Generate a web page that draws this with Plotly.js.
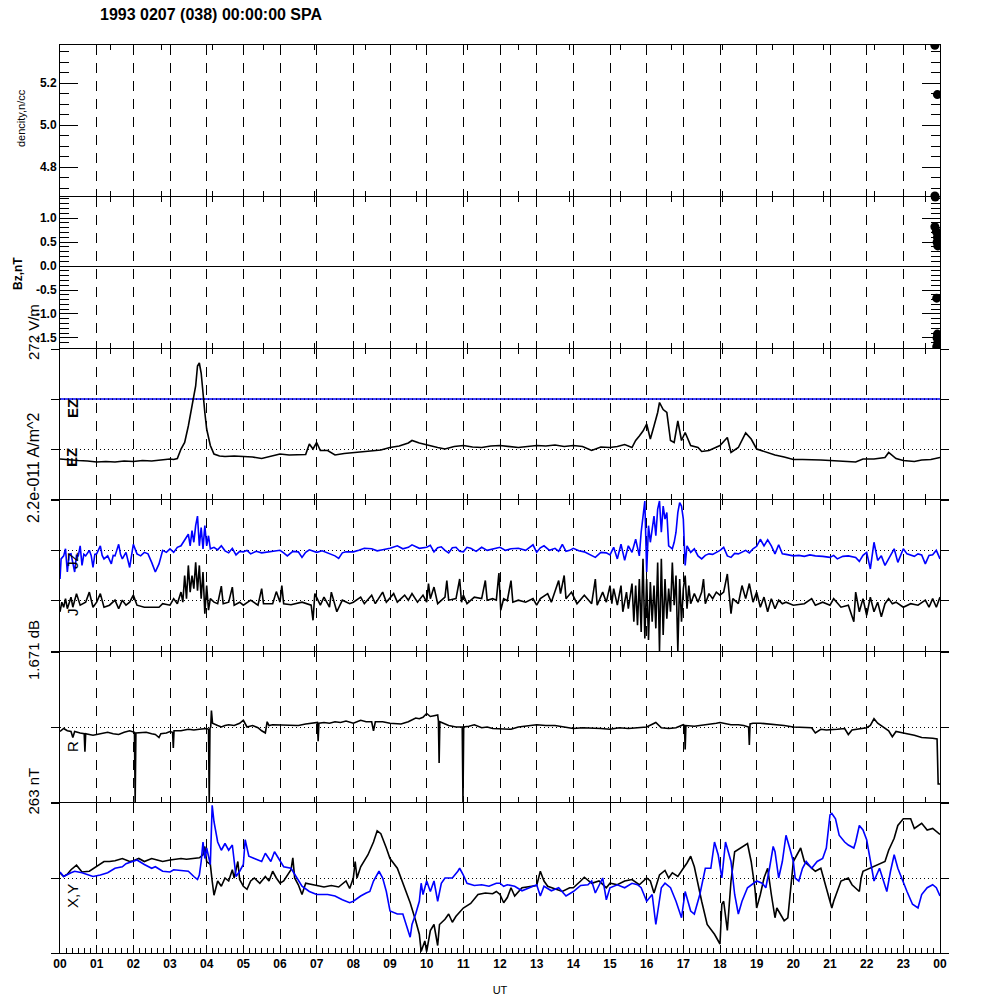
<!DOCTYPE html>
<html>
<head>
<meta charset="utf-8">
<script src="https://cdn.plot.ly/plotly-3.0.1.min.js"></script>
<style>html,body{margin:0;padding:0;background:#fff;}#chart{width:1000px;height:1000px;}</style>
</head>
<body>
<div id="chart"></div>
<script>
// ---------------- DATA ----------------
const titleText = '1993 0207 (038) 00:00:00 SPA';
const hourLabels = ['00','01','02','03','04','05','06','07','08','09','10','11','12','13','14','15','16','17','18','19','20','21','22','23','00'];
const panelLabels = ['272 V/m', '2.2e-011 A/m^2', '1.671 dB', '263 nT'];

// Panel 1: density (n/cc), points at the end of the day
const densT = [23.86, 23.93, 23.86];
const densV = [5.38, 5.145, 4.662];

// Panel 2: Bz (nT)
const bzT = [23.87, 23.86, 23.90, 23.93, 23.92, 23.94, 23.91, 23.93, 23.92, 23.94, 23.91];
const bzV = [1.44, 0.82, 0.72, 0.60, 0.50, 0.42, -0.67, -1.42, -1.50, -1.60, -1.68];

// Panel 3: EZ (panel units, reference level = 1)
const ezRef = 1.0;
const ezData = [[0,-0.20],[0.25,-0.22],[0.5,-0.23],[0.75,-0.24],[1,-0.26],[1.25,-0.25],[1.5,-0.26],[1.75,-0.24],[2,-0.25],[2.25,-0.23],[2.5,-0.24],[2.75,-0.22],[3,-0.20],[3.1,-0.21],[3.2,-0.19],[3.3,0.0],[3.4,0.13],[3.5,0.46],[3.6,0.86],[3.7,1.26],[3.75,1.66],[3.8,1.72],[3.85,1.52],[3.9,1.06],[3.95,0.73],[4.0,0.40],[4.1,0.07],[4.2,-0.10],[4.35,-0.14],[4.5,-0.15],[4.75,-0.14],[5,-0.15],[5.25,-0.16],[5.5,-0.19],[5.75,-0.15],[6,-0.10],[6.25,-0.12],[6.5,-0.12],[6.7,-0.11],[6.8,0.10],[6.9,0.0],[7.0,0.13],[7.1,-0.03],[7.3,-0.03],[7.5,-0.12],[7.75,-0.09],[8,-0.07],[8.25,-0.05],[8.5,-0.03],[8.75,-0.02],[9,0.03],[9.25,0.06],[9.5,0.12],[9.6,0.17],[9.8,0.12],[10,0.08],[10.3,0.03],[10.5,0.0],[10.75,0.05],[11,0.07],[11.25,0.04],[11.5,0.03],[11.75,0.06],[12,0.07],[12.25,0.05],[12.5,0.03],[12.75,0.05],[13,0.07],[13.25,0.06],[13.5,0.08],[13.75,0.05],[14,0.07],[14.25,0.05],[14.5,-0.03],[14.75,0.04],[15,0.03],[15.2,0.05],[15.4,0.09],[15.6,0.03],[15.7,0.17],[15.8,0.26],[15.9,0.36],[16.0,0.50],[16.1,0.20],[16.2,0.46],[16.3,0.73],[16.35,0.93],[16.45,0.79],[16.55,0.73],[16.65,0.17],[16.75,0.13],[16.85,0.56],[16.95,0.17],[17.05,0.33],[17.2,0.07],[17.4,0.03],[17.5,-0.05],[17.7,-0.03],[18,0.07],[18.2,0.23],[18.3,-0.07],[18.5,0.03],[18.7,0.32],[18.85,0.20],[19,0.0],[19.2,-0.05],[19.5,-0.12],[19.75,-0.16],[20,-0.21],[20.25,-0.21],[20.5,-0.21],[20.75,-0.22],[21,-0.23],[21.25,-0.24],[21.5,-0.25],[21.7,-0.26],[21.9,-0.20],[22.2,-0.20],[22.5,-0.17],[22.6,-0.07],[22.8,-0.19],[23,-0.23],[23.3,-0.25],[23.5,-0.22],[23.75,-0.21],[24,-0.17]];

// Panel 4: JZ (blue, baseline 1) and J (black, baseline 0)
const jzData = [[0,0.43],[0.03,0.83],[0.1,0.89],[0.15,1.03],[0.2,0.57],[0.25,0.92],[0.3,0.93],[0.4,0.57],[0.45,0.9],[0.5,0.89],[0.55,1.09],[0.6,0.70],[0.65,0.92],[0.7,0.89],[0.8,1.0],[0.85,0.9],[0.9,0.66],[0.95,0.92],[1.0,0.93],[1.1,1.09],[1.15,0.9],[1.2,0.83],[1.3,0.89],[1.4,0.73],[1.45,0.9],[1.5,0.89],[1.6,1.12],[1.65,0.92],[1.7,0.83],[1.8,0.96],[1.9,0.66],[1.95,0.93],[2.0,1.12],[2.1,0.93],[2.2,0.89],[2.3,0.96],[2.4,0.93],[2.5,0.76],[2.6,0.57],[2.7,0.73],[2.8,1.0],[2.9,0.96],[3.0,1.03],[3.1,0.96],[3.2,1.06],[3.3,1.09],[3.4,1.22],[3.5,1.32],[3.55,1.09],[3.6,1.39],[3.65,1.16],[3.7,1.49],[3.75,1.68],[3.8,1.09],[3.85,1.45],[3.9,1.03],[3.95,1.49],[4.0,1.09],[4.05,1.29],[4.1,1.03],[4.2,1.06],[4.3,1.01],[4.4,1.09],[4.5,0.99],[4.6,0.95],[4.7,1.04],[4.8,0.91],[4.9,0.98],[5.0,0.97],[5.1,1.0],[5.2,0.93],[5.35,0.98],[5.5,0.95],[5.75,0.97],[6.0,1.0],[6.1,0.95],[6.2,0.89],[6.35,0.98],[6.5,0.97],[6.6,0.86],[6.7,0.96],[6.8,1.01],[7.0,0.96],[7.15,0.99],[7.3,0.95],[7.5,0.89],[7.6,0.84],[7.7,0.95],[7.8,0.97],[8.0,0.97],[8.15,1.0],[8.3,1.04],[8.5,1.03],[8.65,0.99],[8.8,1.01],[9.0,1.04],[9.2,1.09],[9.35,1.03],[9.5,1.06],[9.6,1.11],[9.8,1.04],[10.0,1.06],[10.1,1.1],[10.2,0.97],[10.3,1.05],[10.4,1.07],[10.5,1.0],[10.6,0.95],[10.7,1.05],[10.8,1.06],[10.9,0.98],[11.0,0.97],[11.1,1.06],[11.2,1.04],[11.35,0.98],[11.5,1.06],[11.65,1.0],[11.8,1.03],[12.0,1.06],[12.15,1.0],[12.3,1.03],[12.5,1.04],[12.7,1.0],[12.9,1.11],[13.0,0.96],[13.1,1.05],[13.2,1.09],[13.35,1.0],[13.5,1.04],[13.6,0.98],[13.7,1.12],[13.8,0.98],[13.9,1.0],[14.0,1.04],[14.15,0.99],[14.3,0.97],[14.45,0.92],[14.6,0.86],[14.75,0.96],[14.9,0.95],[15.0,0.91],[15.1,1.06],[15.2,0.83],[15.3,1.12],[15.4,0.80],[15.5,1.09],[15.6,0.96],[15.7,1.22],[15.8,0.89],[15.85,1.36],[15.95,1.98],[16.0,0.57],[16.05,1.49],[16.1,1.16],[16.2,1.68],[16.25,1.29],[16.3,1.82],[16.35,1.98],[16.4,1.36],[16.45,1.88],[16.5,1.62],[16.55,1.75],[16.6,1.09],[16.7,1.03],[16.75,1.16],[16.8,1.36],[16.85,1.75],[16.9,1.95],[16.95,1.88],[17.0,1.62],[17.05,0.70],[17.1,1.09],[17.2,0.96],[17.3,1.03],[17.4,0.89],[17.5,0.83],[17.6,0.9],[17.7,0.93],[17.8,0.92],[17.9,0.96],[18.0,1.0],[18.1,1.06],[18.2,0.89],[18.3,0.86],[18.4,0.94],[18.5,0.93],[18.6,0.96],[18.7,1.0],[18.8,0.95],[18.9,1.03],[19.0,1.08],[19.1,1.22],[19.2,1.09],[19.3,1.21],[19.4,1.09],[19.5,0.93],[19.6,1.11],[19.7,0.93],[19.8,0.92],[19.9,0.91],[20.0,0.89],[20.15,0.9],[20.3,0.88],[20.45,0.91],[20.6,0.89],[20.8,0.88],[21.0,0.86],[21.1,0.9],[21.2,0.83],[21.35,0.88],[21.5,0.89],[21.7,0.86],[21.8,0.78],[21.9,0.9],[22.0,0.96],[22.1,0.63],[22.2,1.16],[22.3,0.80],[22.4,0.89],[22.5,0.70],[22.6,0.83],[22.75,1.03],[22.85,0.76],[23.0,1.03],[23.1,0.93],[23.2,0.9],[23.3,0.88],[23.4,0.93],[23.5,0.91],[23.6,0.73],[23.7,0.9],[23.8,0.91],[23.9,1.0],[24,0.83]];
const jData = [[0,-0.22],[0.05,-0.03],[0.1,-0.13],[0.15,0.04],[0.2,-0.16],[0.3,0.07],[0.35,-0.13],[0.45,0.14],[0.55,-0.09],[0.7,-0.03],[0.8,0.17],[0.9,-0.13],[1.0,-0.03],[1.1,0.14],[1.2,-0.13],[1.35,-0.09],[1.5,0.01],[1.6,-0.16],[1.7,0.01],[1.8,-0.09],[1.9,-0.03],[2.0,0.11],[2.1,-0.09],[2.3,-0.13],[2.5,-0.13],[2.7,-0.13],[2.8,-0.06],[3.0,-0.09],[3.1,0.04],[3.2,-0.06],[3.3,0.17],[3.35,-0.03],[3.4,0.50],[3.45,0.04],[3.5,0.70],[3.55,0.17],[3.6,0.50],[3.65,0.24],[3.7,0.76],[3.75,0.20],[3.8,0.70],[3.85,0.04],[3.9,0.57],[3.95,-0.26],[4.0,0.30],[4.05,-0.19],[4.1,0.04],[4.2,-0.03],[4.3,-0.06],[4.4,0.29],[4.45,-0.06],[4.6,-0.03],[4.7,0.27],[4.75,-0.09],[4.9,-0.03],[5.0,-0.09],[5.2,0.01],[5.4,-0.09],[5.5,0.24],[5.55,-0.06],[5.8,-0.06],[5.9,0.18],[6.0,-0.03],[6.05,0.30],[6.1,-0.06],[6.3,-0.08],[6.6,-0.03],[6.85,-0.09],[6.9,-0.39],[6.95,0.14],[7.1,-0.09],[7.2,0.07],[7.35,-0.13],[7.4,0.17],[7.55,-0.22],[7.7,0.01],[7.9,-0.06],[8.0,-0.03],[8.2,0.07],[8.3,-0.06],[8.5,0.11],[8.6,-0.06],[8.8,0.17],[8.9,-0.03],[9.1,0.14],[9.2,-0.03],[9.4,0.11],[9.5,0.01],[9.6,0.14],[9.75,-0.03],[9.9,0.11],[10.0,-0.03],[10.05,0.34],[10.1,0.04],[10.2,0.27],[10.3,-0.06],[10.5,0.07],[10.55,0.40],[10.6,0.01],[10.8,0.04],[10.9,0.43],[10.95,-0.03],[11.0,0.11],[11.1,-0.06],[11.3,0.07],[11.5,0.04],[11.6,0.40],[11.65,0.01],[11.8,0.04],[11.9,0.01],[11.97,0.55],[12.02,-0.19],[12.1,0.04],[12.2,0.0],[12.3,0.40],[12.35,-0.03],[12.5,0.01],[12.7,-0.03],[12.9,0.04],[13.0,-0.09],[13.1,0.04],[13.3,0.14],[13.4,-0.03],[13.6,0.40],[13.65,0.14],[13.75,0.50],[13.8,0.04],[13.95,0.17],[14.1,-0.06],[14.3,0.11],[14.5,-0.06],[14.6,0.43],[14.65,-0.09],[14.8,0.17],[14.9,-0.03],[15.0,0.30],[15.05,-0.06],[15.1,0.24],[15.2,-0.09],[15.3,0.30],[15.35,-0.22],[15.45,0.17],[15.5,-0.16],[15.6,0.34],[15.65,-0.42],[15.7,0.30],[15.75,-0.49],[15.8,0.43],[15.85,-0.62],[15.9,0.83],[15.95,-0.75],[16.0,0.43],[16.05,-0.78],[16.1,0.37],[16.15,-0.42],[16.2,0.30],[16.25,-0.55],[16.3,0.76],[16.35,-1.0],[16.4,0.83],[16.45,-0.68],[16.5,0.43],[16.55,-0.36],[16.6,0.24],[16.65,-0.22],[16.7,0.76],[16.75,-0.09],[16.8,0.50],[16.85,-1.0],[16.9,0.43],[16.95,-0.42],[17.0,0.24],[17.05,0.50],[17.1,-0.16],[17.15,0.30],[17.2,-0.06],[17.3,0.14],[17.4,-0.03],[17.5,0.17],[17.55,0.43],[17.6,-0.06],[17.7,0.14],[17.8,0.04],[17.9,0.17],[18.0,0.11],[18.1,0.17],[18.2,0.53],[18.25,0.04],[18.3,-0.26],[18.35,0.04],[18.5,-0.06],[18.6,0.30],[18.7,0.04],[18.8,0.34],[18.9,-0.03],[19.0,0.17],[19.1,-0.13],[19.2,0.07],[19.3,-0.22],[19.4,0.04],[19.5,-0.16],[19.6,0.01],[19.7,-0.06],[19.8,-0.03],[20.0,-0.09],[20.3,-0.06],[20.5,0.04],[20.6,-0.09],[20.8,-0.03],[21.0,-0.09],[21.1,0.04],[21.3,-0.13],[21.5,-0.09],[21.65,-0.42],[21.7,0.17],[21.8,-0.22],[21.9,0.04],[22.0,-0.29],[22.1,0.07],[22.2,-0.22],[22.3,-0.03],[22.4,-0.32],[22.5,-0.06],[22.6,0.04],[22.7,-0.06],[22.8,-0.03],[23.0,-0.13],[23.2,-0.06],[23.4,-0.09],[23.6,0.01],[23.7,-0.13],[23.8,0.04],[23.9,-0.13],[24,0.07]];

// Panel 5: R
const rData = [[0,-0.06],[0.1,-0.02],[0.2,-0.05],[0.3,-0.06],[0.35,-0.14],[0.4,-0.06],[0.55,-0.08],[0.66,-0.09],[0.68,-0.33],[0.7,-0.09],[0.8,-0.10],[0.9,-0.11],[1.0,-0.10],[1.15,-0.08],[1.3,-0.07],[1.45,-0.09],[1.6,-0.10],[1.75,-0.07],[1.9,-0.05],[2.03,-0.07],[2.05,-1.0],[2.07,-0.08],[2.2,-0.08],[2.35,-0.07],[2.5,-0.09],[2.6,-0.10],[2.7,-0.14],[2.75,-0.09],[2.9,-0.08],[3.0,-0.06],[3.07,-0.07],[3.09,-0.28],[3.11,-0.05],[3.3,-0.05],[3.5,-0.03],[3.65,-0.04],[3.8,-0.03],[4.0,-0.02],[4.05,-0.03],[4.07,-1.0],[4.09,-0.02],[4.11,0.0],[4.13,0.22],[4.16,0.05],[4.3,0.02],[4.4,0.0],[4.5,0.02],[4.6,0.03],[4.75,0.02],[4.9,0.05],[5.0,0.09],[5.1,0.0],[5.25,0.02],[5.4,-0.01],[5.5,-0.05],[5.6,-0.08],[5.65,0.07],[5.7,0.02],[5.8,0.03],[6.0,0.03],[6.2,0.02],[6.35,0.03],[6.5,0.02],[6.7,0.04],[6.9,0.05],[7.02,0.06],[7.04,-0.19],[7.06,0.05],[7.2,0.06],[7.35,0.05],[7.5,0.07],[7.65,0.06],[7.8,0.08],[8.0,0.05],[8.2,0.09],[8.35,0.07],[8.5,0.07],[8.55,-0.05],[8.6,0.07],[8.8,0.07],[9.0,0.05],[9.15,0.05],[9.3,0.04],[9.5,0.07],[9.7,0.12],[9.8,0.11],[9.9,0.13],[10.0,0.18],[10.1,0.14],[10.2,0.15],[10.3,0.16],[10.32,0.08],[10.34,-0.48],[10.36,0.07],[10.45,0.05],[10.6,0.02],[10.8,0.0],[10.97,0.0],[10.99,-1.0],[11.01,0.0],[11.15,0.01],[11.3,0.03],[11.5,-0.01],[11.65,0.0],[11.8,-0.02],[12.0,-0.02],[12.15,-0.03],[12.3,-0.03],[12.5,0.0],[12.75,0.02],[13.0,0.03],[13.25,0.02],[13.5,0.02],[13.75,0.0],[14.0,-0.02],[14.25,-0.01],[14.5,-0.01],[14.75,-0.02],[15.0,-0.03],[15.25,-0.01],[15.5,-0.02],[15.75,-0.01],[16.0,0.0],[16.25,0.06],[16.4,-0.01],[16.6,-0.02],[16.8,-0.01],[17.0,0.03],[17.03,0.02],[17.05,-0.30],[17.07,0.02],[17.3,0.01],[17.5,0.02],[17.7,0.04],[17.9,0.05],[18.0,0.06],[18.15,0.04],[18.3,0.03],[18.5,0.03],[18.65,0.02],[18.78,0.0],[18.8,-0.24],[18.82,0.04],[18.9,0.05],[19.1,0.05],[19.3,0.04],[19.5,0.04],[19.75,0.02],[20.0,0.0],[20.25,0.0],[20.5,-0.01],[20.6,-0.08],[20.75,-0.03],[20.9,-0.04],[21.0,-0.04],[21.2,-0.03],[21.4,-0.02],[21.5,-0.10],[21.6,-0.04],[21.8,-0.02],[22.0,-0.01],[22.1,0.02],[22.2,0.11],[22.3,0.05],[22.45,0.0],[22.6,-0.05],[22.7,-0.13],[22.8,-0.06],[23.0,-0.08],[23.15,-0.09],[23.3,-0.11],[23.5,-0.14],[23.65,-0.14],[23.8,-0.15],[23.92,-0.16],[23.95,-0.76],[24,-0.76]];

// Panel 6: X (black) and Y (blue)
const xData = [[0,0.07],[0.1,0.02],[0.2,0.05],[0.3,0.11],[0.45,0.17],[0.6,0.08],[0.8,0.09],[1.0,0.15],[1.2,0.22],[1.35,0.22],[1.5,0.23],[1.7,0.26],[1.9,0.22],[2.0,0.23],[2.15,0.26],[2.3,0.22],[2.5,0.26],[2.65,0.24],[2.8,0.22],[3.0,0.24],[3.15,0.25],[3.3,0.26],[3.45,0.25],[3.6,0.26],[3.8,0.27],[3.9,0.31],[3.95,0.42],[4.0,0.22],[4.1,0.18],[4.15,-0.04],[4.2,-0.23],[4.3,-0.04],[4.4,-0.11],[4.5,0.0],[4.6,-0.04],[4.7,0.11],[4.75,0.0],[4.85,0.22],[4.9,-0.02],[5.0,-0.11],[5.1,-0.15],[5.2,-0.04],[5.3,0.0],[5.45,-0.07],[5.6,0.02],[5.7,-0.04],[5.8,0.09],[5.9,0.0],[6.0,-0.07],[6.1,-0.04],[6.2,0.04],[6.3,0.11],[6.35,0.27],[6.4,0.0],[6.5,-0.09],[6.6,-0.22],[6.7,-0.07],[6.9,-0.09],[7.0,-0.10],[7.2,-0.12],[7.4,-0.10],[7.6,-0.12],[7.8,-0.04],[7.9,-0.14],[8.0,0.0],[8.05,0.22],[8.1,0.0],[8.2,0.15],[8.4,0.31],[8.55,0.48],[8.65,0.63],[8.75,0.59],[8.9,0.40],[9.0,0.26],[9.2,0.13],[9.3,0.0],[9.45,-0.18],[9.55,-0.33],[9.7,-0.57],[9.8,-0.75],[9.85,-0.98],[9.95,-0.84],[10.0,-0.98],[10.1,-0.70],[10.2,-0.62],[10.3,-0.90],[10.35,-0.62],[10.5,-0.55],[10.6,-0.48],[10.7,-0.59],[10.8,-0.51],[11.0,-0.40],[11.2,-0.34],[11.4,-0.22],[11.6,-0.20],[11.8,-0.21],[11.9,-0.18],[12.0,-0.22],[12.1,-0.33],[12.2,-0.26],[12.3,-0.13],[12.4,-0.24],[12.6,-0.13],[12.8,-0.11],[13.0,-0.10],[13.1,0.09],[13.2,-0.04],[13.3,-0.11],[13.5,-0.15],[13.7,-0.18],[13.9,-0.13],[14.0,-0.13],[14.2,-0.04],[14.3,0.01],[14.5,-0.07],[14.7,-0.04],[14.9,-0.13],[15.0,-0.07],[15.2,-0.09],[15.4,-0.04],[15.6,-0.02],[15.8,-0.09],[16.0,0.0],[16.1,-0.04],[16.2,-0.20],[16.35,0.04],[16.5,0.10],[16.6,0.0],[16.7,0.07],[16.85,0.02],[17.0,0.13],[17.1,0.2],[17.2,0.29],[17.3,0.15],[17.5,-0.31],[17.65,-0.62],[17.85,-0.75],[18.0,-0.88],[18.05,-0.35],[18.1,-0.31],[18.2,-0.70],[18.3,-0.04],[18.4,0.35],[18.55,0.40],[18.75,0.46],[18.85,0.22],[18.95,-0.13],[19.0,-0.40],[19.1,-0.22],[19.2,0.0],[19.3,0.13],[19.4,-0.22],[19.5,-0.53],[19.55,-0.40],[19.65,-0.48],[19.75,-0.57],[19.85,-0.53],[19.95,-0.04],[20.0,0.22],[20.1,0.31],[20.2,0.40],[20.3,0.22],[20.45,0.15],[20.6,0.09],[20.75,0.13],[20.9,-0.13],[21.05,-0.40],[21.1,-0.31],[21.3,-0.04],[21.5,0.0],[21.6,-0.09],[21.8,-0.18],[21.85,0.0],[21.9,0.09],[22.1,0.13],[22.3,0.18],[22.5,0.22],[22.6,0.37],[22.75,0.53],[22.85,0.70],[23.0,0.79],[23.2,0.79],[23.3,0.66],[23.5,0.73],[23.65,0.64],[23.8,0.66],[23.95,0.59],[24,0.58]];
const yData = [[0,0.08],[0.1,0.02],[0.3,0.07],[0.4,0.09],[0.6,0.07],[0.9,0.02],[1.1,0.04],[1.3,0.07],[1.5,0.13],[1.7,0.15],[1.8,0.19],[1.95,0.22],[2.1,0.24],[2.3,0.18],[2.5,0.13],[2.6,0.15],[2.8,0.09],[3.0,0.08],[3.1,0.11],[3.3,0.10],[3.5,0.09],[3.65,0.02],[3.75,-0.02],[3.8,0.04],[3.85,0.22],[3.9,0.48],[3.95,0.26],[4.0,0.40],[4.1,0.18],[4.15,0.97],[4.2,0.75],[4.3,0.48],[4.4,0.37],[4.5,0.46],[4.6,0.37],[4.7,0.44],[4.75,0.18],[4.8,0.02],[4.9,0.09],[5.0,0.18],[5.05,0.51],[5.15,0.29],[5.3,0.26],[5.5,0.22],[5.6,0.33],[5.75,0.22],[5.85,0.35],[6.0,0.22],[6.1,0.15],[6.3,0.13],[6.5,-0.02],[6.6,-0.11],[6.8,-0.18],[7.0,-0.22],[7.3,-0.22],[7.5,-0.24],[7.7,-0.29],[7.9,-0.33],[8.0,-0.31],[8.2,-0.24],[8.35,-0.20],[8.45,-0.18],[8.55,-0.04],[8.7,0.09],[8.8,0.0],[8.9,-0.18],[9.0,-0.44],[9.2,-0.48],[9.35,-0.48],[9.5,-0.70],[9.55,-0.79],[9.6,-0.62],[9.7,-0.48],[9.8,-0.31],[9.85,-0.07],[9.9,-0.22],[10.0,-0.04],[10.1,-0.18],[10.2,-0.04],[10.3,-0.31],[10.4,-0.07],[10.5,0.0],[10.7,0.0],[10.85,0.09],[10.9,0.13],[11.0,0.04],[11.1,-0.07],[11.3,-0.10],[11.5,-0.09],[11.7,-0.11],[11.9,-0.07],[12.0,-0.07],[12.1,-0.11],[12.2,-0.09],[12.4,-0.11],[12.6,-0.17],[12.8,-0.13],[13.0,-0.09],[13.1,-0.24],[13.2,-0.11],[13.4,-0.17],[13.6,-0.13],[13.8,-0.24],[14.0,-0.18],[14.2,-0.10],[14.4,-0.09],[14.5,-0.04],[14.6,-0.20],[14.8,0.0],[14.9,-0.29],[15.0,-0.13],[15.2,-0.09],[15.4,-0.13],[15.6,-0.07],[15.75,-0.09],[15.85,-0.13],[16.0,-0.31],[16.15,-0.22],[16.25,-0.62],[16.4,-0.13],[16.5,-0.07],[16.65,-0.13],[16.8,-0.31],[16.95,-0.53],[17.05,-0.18],[17.2,-0.44],[17.3,-0.48],[17.45,-0.22],[17.6,0.13],[17.75,0.13],[17.85,0.48],[17.95,0.31],[18.05,0.0],[18.15,0.48],[18.3,0.22],[18.4,-0.22],[18.5,-0.48],[18.6,-0.31],[18.75,-0.13],[18.9,-0.07],[19.0,-0.04],[19.15,-0.07],[19.25,-0.13],[19.35,0.13],[19.45,0.42],[19.5,0.35],[19.6,0.0],[19.7,0.22],[19.8,0.57],[19.9,0.40],[20.0,0.22],[20.05,0.0],[20.15,-0.04],[20.25,0.13],[20.35,0.22],[20.5,0.13],[20.65,0.22],[20.8,0.26],[20.9,0.40],[21.0,0.84],[21.05,0.86],[21.15,0.79],[21.25,0.57],[21.4,0.48],[21.5,0.44],[21.65,0.40],[21.7,0.48],[21.8,0.70],[21.9,0.64],[22.0,0.51],[22.1,0.22],[22.2,-0.04],[22.35,0.13],[22.45,-0.04],[22.55,-0.18],[22.65,0.09],[22.75,0.31],[22.85,0.13],[22.95,0.0],[23.1,-0.18],[23.25,-0.35],[23.4,-0.40],[23.5,-0.22],[23.65,-0.13],[23.8,-0.09],[23.9,-0.13],[24,-0.24]];

// ---------------- LAYOUT HELPERS ----------------
const BLACK = '#000000', BLUE = '#0000ff';
const FONT = 'Liberation Sans, Arial, Helvetica, sans-serif';
const xDom = [0.06, 0.94];
// each panel's top edge sits 1px lower so that adjacent frame lines coincide
const yDoms = [[0.804,0.955],[0.652,0.803],[0.501,0.651],[0.349,0.500],[0.198,0.348],[0.047,0.197]];
const hourGrid = hourLabels.map((_, i) => i).slice(1, 24);
const hourTicks = hourLabels.map((_, i) => i);
const split = (d) => ({x: d.map(p => p[0]), y: d.map(p => p[1])});

function line(d, color, xa, ya) {
  const s = split(d);
  return {x: s.x, y: s.y, type: 'scatter', mode: 'lines', xaxis: xa, yaxis: ya,
    line: {color: color, width: 1.6}, hoverinfo: 'skip', showlegend: false};
}

const traces = [
  {x: densT, y: densV, type: 'scatter', mode: 'markers', xaxis: 'x', yaxis: 'y',
   marker: {color: BLACK, size: 9}, showlegend: false},
  {x: bzT, y: bzV, type: 'scatter', mode: 'markers', xaxis: 'x2', yaxis: 'y2',
   marker: {color: BLACK, size: 9}, showlegend: false},
  {x: [0, 24], y: [ezRef, ezRef], type: 'scatter', mode: 'lines', xaxis: 'x3', yaxis: 'y3',
   line: {color: BLUE, width: 1.5}, showlegend: false},
  {x: [0, 24], y: [ezRef, ezRef], type: 'scatter', mode: 'lines', xaxis: 'x3', yaxis: 'y3',
   line: {color: BLACK, width: 1, dash: '1px,3px'}, showlegend: false},
  line(ezData, BLACK, 'x3', 'y3'),
  line(jzData, BLUE, 'x4', 'y4'),
  line(jData, BLACK, 'x4', 'y4'),
  line(rData, BLACK, 'x5', 'y5'),
  line(xData, BLACK, 'x6', 'y6'),
  line(yData, BLUE, 'x6', 'y6')
];

const tickFont = {family: FONT, size: 12, color: BLACK, weight: 'bold'};

function xAxis(n, last) {
  const a = {
    domain: xDom, range: [0, 24], anchor: 'y' + (n === 1 ? '' : n), autorange: false,
    showline: true, linecolor: BLACK, linewidth: 1,
    showgrid: true, gridcolor: BLACK, gridwidth: 1, griddash: '10px,8px',
    zeroline: false, fixedrange: true
  };
  if (!last) {
    Object.assign(a, {tickmode: 'array', tickvals: hourGrid, showticklabels: false,
      ticks: 'inside', ticklen: 0.1, tickcolor: BLACK, mirror: 'ticks',
      minor: {tickmode: 'linear', tick0: 0, dtick: 5000 / 3600, ticks: 'inside', ticklen: 5,
              tickcolor: BLACK, showgrid: false}});
  } else {
    Object.assign(a, {tickmode: 'array', tickvals: hourTicks, ticktext: hourLabels,
      ticks: 'inside', ticklen: 8, tickcolor: BLACK, mirror: true, tickfont: tickFont,
      minor: {tickmode: 'linear', tick0: 0, dtick: 1 / 6, ticks: 'inside', ticklen: 5,
              tickcolor: BLACK, showgrid: false},
      title: {text: 'UT', font: {family: FONT, size: 11, color: BLACK}, standoff: 15}, automargin: false});
  }
  return a;
}

function yLineAxis(n, range, vals) {
  return {domain: yDoms[n - 1], range: range, anchor: 'x' + n, autorange: false,
    tickmode: 'array', tickvals: vals, showticklabels: false,
    ticks: 'outside', ticklen: 8, tickcolor: BLACK, mirror: 'ticks',
    showline: true, linecolor: BLACK, linewidth: 1,
    showgrid: true, gridcolor: BLACK, gridwidth: 1, griddash: '1px,3px',
    zeroline: false, fixedrange: true};
}

const layout = {
  width: 1000, height: 1000, paper_bgcolor: '#ffffff', plot_bgcolor: '#ffffff',
  margin: {l: 0, r: 0, t: 0, b: 0}, showlegend: false,
  font: {family: FONT, color: BLACK},
  title: {text: titleText, x: 0.1, xanchor: 'left', y: 0.986, yanchor: 'middle',
          font: {family: FONT, size: 16, color: BLACK, weight: 'bold'}},
  xaxis: xAxis(1), xaxis2: xAxis(2), xaxis3: xAxis(3), xaxis4: xAxis(4), xaxis5: xAxis(5), xaxis6: xAxis(6, true),
  yaxis: {domain: yDoms[0], range: [4.662, 5.381], anchor: 'x', autorange: false,
    tickmode: 'array', tickvals: [4.8, 5.0, 5.2], ticktext: ['4.8', '5.0', '5.2'],
    ticks: 'inside', ticklen: 18, tickcolor: BLACK, mirror: 'ticks', tickfont: tickFont,
    showline: true, linecolor: BLACK, linewidth: 1, showgrid: false, zeroline: false,
    minor: {tickmode: 'linear', tick0: 0, dtick: 0.05, ticks: 'inside', ticklen: 9, tickcolor: BLACK, showgrid: false}},
  yaxis2: {domain: yDoms[1], range: [-1.71, 1.44], anchor: 'x2', autorange: false,
    tickmode: 'array', tickvals: [-1.5, -1.0, -0.5, 0, 0.5, 1.0], ticktext: ['-1.5', '-1.0', '-0.5', '0.0', '0.5', '1.0'],
    ticks: 'inside', ticklen: 18, tickcolor: BLACK, mirror: 'ticks', tickfont: tickFont,
    showline: true, linecolor: BLACK, linewidth: 1, showgrid: false,
    zeroline: true, zerolinecolor: BLACK, zerolinewidth: 1,
    minor: {tickmode: 'linear', tick0: 0, dtick: 0.1, ticks: 'inside', ticklen: 9, tickcolor: BLACK, showgrid: false}},
  yaxis3: yLineAxis(3, [-1, 2], [-1, 0, 1, 2]),
  yaxis4: yLineAxis(4, [-1, 2], [-1, 0, 1, 2]),
  yaxis5: yLineAxis(5, [-1, 1], [-1, 0, 1]),
  yaxis6: yLineAxis(6, [-1, 1], [-1, 0, 1]),
  annotations: []
};

function ann(text, xpx, ypx, yanchor, size, weight) {
  return {text: text, xref: 'paper', yref: 'paper', x: xpx / 1000, y: 1 - ypx / 1000,
    xanchor: 'center', yanchor: yanchor, textangle: -90, showarrow: false,
    font: {family: FONT, size: size, color: BLACK, weight: weight || 'normal'}};
}
layout.annotations.push(ann('dencity,n/cc', 21, 118, 'middle', 11));
layout.annotations.push(ann('Bz,nT', 18, 274, 'middle', 12, 'bold'));
layout.annotations.push(ann(panelLabels[0], 33, 362, 'bottom', 15));
layout.annotations.push(ann(panelLabels[1], 33, 525, 'bottom', 16));
layout.annotations.push(ann(panelLabels[2], 33, 682, 'bottom', 15));
layout.annotations.push(ann(panelLabels[3], 33, 817, 'bottom', 15));
layout.annotations.push(ann('EZ', 72, 409, 'middle', 15, 'bold'));
layout.annotations.push(ann('EZ', 72, 458, 'middle', 15, 'bold'));
layout.annotations.push(ann('JZ', 72, 561, 'middle', 15));
layout.annotations.push(ann('J', 72, 612, 'middle', 15));
layout.annotations.push(ann('R', 72, 747, 'middle', 15));
layout.annotations.push(ann('X,Y', 72, 896, 'middle', 15));

Plotly.newPlot('chart', traces, layout, {staticPlot: true, displayModeBar: false});
</script>
</body>
</html>
